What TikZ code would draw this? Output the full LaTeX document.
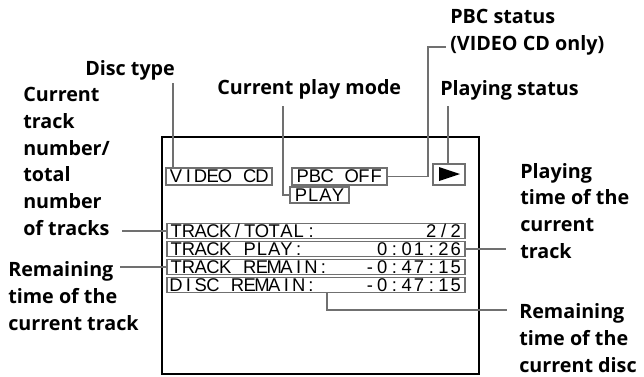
\documentclass[tikz,border=0pt]{standalone}
\usepackage{fontspec}
\setmainfont{Open Sans}
\newfontfamily\lcdfont{Liberation Sans}
\definecolor{framegray}{RGB}{112,112,112}

% one fixed cell per character, like the player's on-screen display
\newcommand\lcdtext[1]{\lcdnext#1\relax}
\def\lcdnext#1{\ifx\relax#1\else\makebox[9.2pt]{#1}\expandafter\lcdnext\fi}

\tikzset{
  callout/.style={font=\bfseries\fontsize{14.8}{20}\selectfont, align=left, inner sep=0pt, anchor=base west},
  leader/.style={draw=framegray, line width=1.1pt},
  lcdbox/.style={draw=framegray, line width=1.4pt, inner sep=0pt, font=\lcdfont\fontsize{13.8}{14}\selectfont},
  rowbox/.style={lcdbox, minimum width=223.5pt, minimum height=11.25pt},
}

\begin{document}
\begin{tikzpicture}[x=0.75pt, y=-0.75pt]
  \useasboundingbox (0,0) rectangle (644,376);
  % screen
  \draw[line width=0.8pt] (162,137) rectangle (479,374);
  \node[lcdbox, minimum width=79.5pt, minimum height=12.75pt] (vcd) at (219,176.5) {\lcdtext{VIDEO~CD}};
  \node[lcdbox, minimum width=71.25pt, minimum height=12.75pt] (pbc) at (339.5,176.5) {\lcdtext{PBC~OFF}};
  \node[lcdbox, minimum width=44.25pt, minimum height=12pt] (play) at (319.5,195) {\lcdtext{PLAY}};
  \node[lcdbox, minimum width=24pt, minimum height=15.75pt] (playbox) at (449,174.5) {};
  \fill (439,167) -- (439,181) -- (460,174) -- cycle;
  \node[rowbox] (total) at (316,231) {\makebox[219pt]{\lcdtext{TRACK/TOTAL:}\hfill\lcdtext{2/2}}};
  \node[rowbox] (tplay) at (316,249) {\makebox[219pt]{\lcdtext{TRACK~PLAY:}\hfill\lcdtext{0:01:26}}};
  \node[rowbox] (tremain) at (316,267) {\makebox[219pt]{\lcdtext{TRACK~REMAIN:}\hfill\lcdtext{-0:47:15}}};
  \node[rowbox] (dremain) at (316,285) {\makebox[219pt]{\lcdtext{DISC~REMAIN:}\hfill\lcdtext{-0:47:15}}};
  % callouts (base = last line)
  \node[callout] (disctype) at (85,75) {Disc type};
  \node[callout] (tracknum) at (23,235) {Current\\track\\number/\\total\\number\\of tracks};
  \node[callout] (playmode) at (217,94) {Current play mode};
  \node[callout] (pbcstat) at (450,50) {PBC status\\(VIDEO CD only)};
  \node[callout] (playstat) at (440,95) {Playing status};
  \node[callout] (playtime) at (520,258) {Playing\\time of the\\current\\track};
  \node[callout] (remtrack) at (8,330) {Remaining\\time of the\\current track};
  \node[callout] (remdisc) at (519,372) {Remaining\\time of the\\current disc};
  % leaders
  \coordinate (dtend) at (173,83);
  \coordinate (pmend) at (283,106);
  \coordinate (pbcend) at (446,47);
  \coordinate (psend) at (448,106);
  \coordinate (ttend) at (122,231);
  \coordinate (ptend) at (506,249);
  \coordinate (rtend) at (120,267);
  \coordinate (rdend) at (507,310);
  \draw[leader] (dtend) -- (dtend |- vcd.north);
  \draw[leader] (pmend) |- (play.west);
  \draw[leader] (pbc.east) -- ++(40,0) |- (pbcend);
  \draw[leader] (psend) -- (psend |- playbox.north);
  \draw[leader] (ttend) -- (total.west);
  \draw[leader] (tplay.east) -- (ptend);
  \draw[leader] (rtend) -- (tremain.west);
  \draw[leader] ([xshift=8.25pt]dremain.south) |- (rdend);
\end{tikzpicture}
\end{document}
